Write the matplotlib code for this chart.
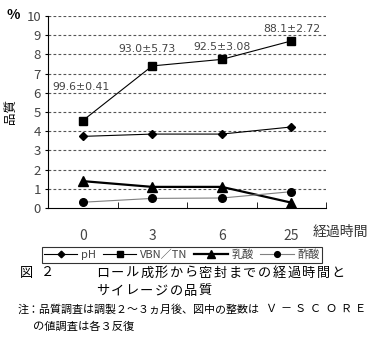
import matplotlib.pyplot as plt
import numpy as np

plt.rcParams['font.family'] = ['Noto Sans CJK JP', 'DejaVu Sans']

days = ['0', '3', '6', '25']
ph = [3.73, 3.85, 3.85, 4.22]
vbn_tn = [4.55, 7.4, 7.74, 8.7]
lactic = [1.4, 1.1, 1.1, 0.28]
acetic = [0.3, 0.5, 0.52, 0.85]
vscore = ['99.6±0.41', '93.0±5.73', '92.5±3.08', '88.1±2.72']

W, H = 371, 357
fig = plt.figure(figsize=(W / 100, H / 100), dpi=100)
ax = fig.add_axes([48 / W, 1 - 208 / H, 278 / W, 192 / H])
x = np.arange(len(days))

ax.plot(x, ph, color='black', lw=0.8, marker='D', ms=4.5, mfc='black', mec='black', label='pH')
ax.plot(x, vbn_tn, color='black', lw=0.8, marker='s', ms=6, mfc='black', mec='black', label='VBN／TN')
ax.plot(x, lactic, color='black', lw=1.6, marker='^', ms=7, mfc='black', mec='black', label='乳酸')
ax.plot(x, acetic, color='#808080', lw=0.8, marker='o', ms=5.5, mfc='black', mec='black', label='酢酸')

ax.set_xlim(-0.5, 3.5)
ax.set_ylim(0, 10)
ax.set_yticks(range(11))
ax.set_xticks(x)
ax.set_xticklabels(days)
ax.set_xticks([0.5, 1.5, 2.5, 3.5], minor=True)
ax.tick_params(axis='x', which='major', length=0, pad=15, labelsize=10, labelcolor='#444444')
ax.tick_params(axis='x', which='minor', direction='in', length=4, color='black')
ax.tick_params(axis='y', length=2, labelsize=9.5, labelcolor='#444444', pad=3)
for y in range(1, 11):
    ax.axhline(y, color='#555555', lw=0.8, ls=(0, (2.5, 2)), zorder=0)
ax.spines['top'].set_visible(False)
ax.spines['right'].set_visible(False)

# V-SCORE labels
offsets = [(-0.44, 6.3), (-0.49, 8.3), (-0.41, 8.4), (-0.41, 9.3)]
for (dx, yy), xi, s in zip(offsets, x, vscore):
    ax.text(xi + dx, yy, s, fontsize=7.8, color='#444444', ha='left', va='center',
            family=['DejaVu Sans'])

fig.text(13 / W, 1 - 15 / H, '%', fontsize=10, fontweight='bold', ha='center', va='center')
fig.text(10 / W, 1 - 112 / H, '品質', fontsize=9, rotation=90, ha='center', va='center')
fig.text(368 / W, 1 - 232 / H, '経過時間', fontsize=10, ha='right', va='center', color='#333333')

leg = fig.legend(loc='center', bbox_to_anchor=(182 / W, 1 - 255 / H), ncol=4, fontsize=8,
                 frameon=True, fancybox=False, edgecolor='black', handlelength=3.0,
                 handletextpad=0.35, columnspacing=0.6, borderpad=0.2, markerscale=0.75)
leg.get_frame().set_linewidth(0.8)
for t in leg.get_texts():
    t.set_color('#444444')


def spaced(text, x0, y0, pitch, size):
    # one glyph at a time to get the wide letter spacing of the original
    for i, ch in enumerate(text):
        fig.text((x0 + i * pitch) / W, 1 - y0 / H, ch, fontsize=size, ha='left', va='center')


spaced('図２', 20, 273, 21, 9.5)
spaced('ロール成形から密封までの経過時間と', 96, 273, 14.7, 9.5)
spaced('サイレージの品質', 96, 291, 14.7, 9.5)
fig.text(18 / W, 1 - 309 / H, '注：品質調査は調製２～３ヵ月後、図中の整数は', fontsize=7.9,
         ha='left', va='center')
spaced('Ｖ－ＳＣＯＲＥ', 265, 309, 15, 8)
fig.text(33 / W, 1 - 327 / H, 'の値調査は各３反復', fontsize=8.1, ha='left', va='center')

fig.savefig('out.png', dpi=100)
